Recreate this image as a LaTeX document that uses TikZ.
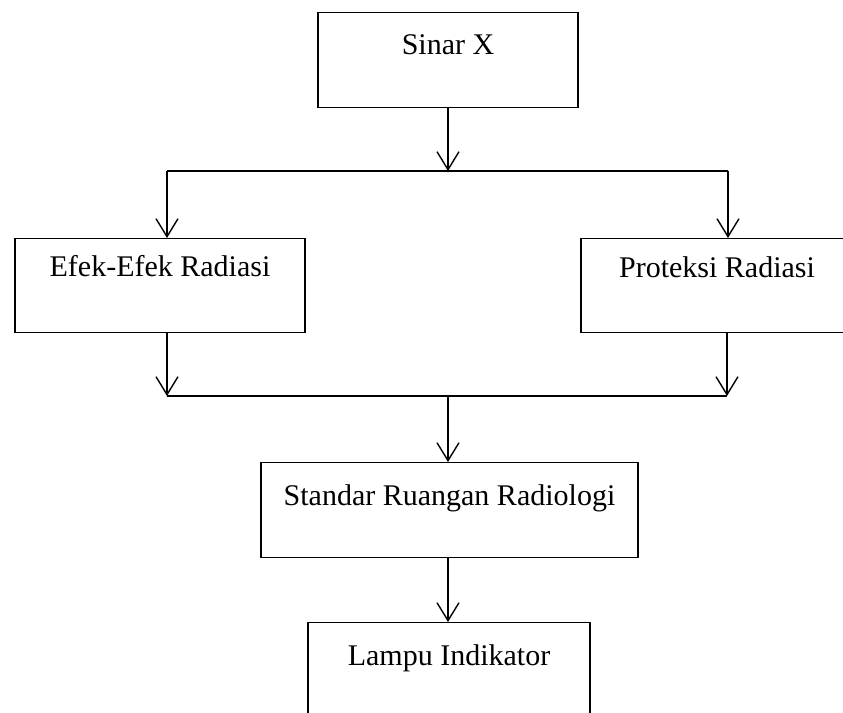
\documentclass[tikz,border=0pt]{standalone}
\usepackage{fontspec}
\setmainfont{Liberation Serif}
\usetikzlibrary{arrows.meta}
\begin{document}
\begin{tikzpicture}[x=0.5pt,y=-0.5pt,
  box/.style={draw, line width=0.7pt, rectangle, anchor=north, inner xsep=0pt, inner ysep=0pt,
    font=\fontsize{15}{18}\selectfont},
  arr/.style={-{Straight Barb[length=9pt,width=11pt]}, line width=0.7pt},
  bar/.style={line width=0.7pt}]
\clip (0,0) rectangle (843,713);
\fill[white] (0,0) rectangle (843,713);
% boxes
\node[box, minimum width=130pt, text height=21pt, text depth=26.5pt] (sinar) at (448,12) {Sinar X};
\node[box, minimum width=145pt, text height=19pt, text depth=28pt] (efek) at (160,238) {Efek-Efek Radiasi};
\node[box, minimum width=136pt, text height=19.5pt, text depth=27.5pt] (proteksi) at (717,238) {Proteksi Radiasi};
\node[box, minimum width=188.5pt, text height=21.5pt, text depth=26pt] (standar) at (449.5,462) {Standar Ruangan Radiologi};
\node[box, minimum width=141pt, text height=21.5pt, text depth=45pt] (lampu) at (449,622) {Lampu Indikator};
% junctions
\coordinate (split1) at (448,171);
\coordinate (topL) at (167,171);
\coordinate (topR) at (728,171);
\coordinate (botL) at (167,396);
\coordinate (botR) at (727,396);
\coordinate (split2) at (448,396);
% connectors
\draw[arr] (sinar.south -| split1) -- (split1);
\draw[bar] (topL) -- (topR);
\draw[arr] (topL) -- (topL |- efek.north);
\draw[arr] (topR) -- (topR |- proteksi.north);
\draw[arr] (botL |- efek.south) -- (botL);
\draw[arr] (botR |- proteksi.south) -- (botR);
\draw[bar] (botL) -- (botR);
\draw[arr] (split2) -- (split2 |- standar.north);
\draw[arr] (standar.south -| split2) -- (split2 |- lampu.north);
\end{tikzpicture}
\end{document}
